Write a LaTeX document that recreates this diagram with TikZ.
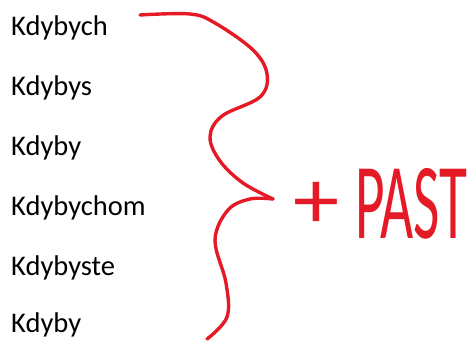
\documentclass[tikz,border=0pt]{standalone}
\usepackage{fontspec}
\setmainfont{Carlito}
\usepackage{tikz}
\usetikzlibrary{positioning}
\usepackage{xcolor}
\definecolor{penred}{RGB}{228,27,38}
\tikzset{%
	every word/.style={
		anchor=base west,
		inner sep=0pt,
		font=\fontsize{28.5bp}{34bp}\selectfont
	},
	pen stroke/.style={
		draw=penred,
		line width=3.4bp,
		line cap=round,
		line join=round
	},
	pen text/.style={
		anchor=base west,
		inner sep=0pt,
		text=penred
	},
}
\begin{document}
\begin{tikzpicture}[x=1bp, y=-1bp]
			\useasboundingbox (0,0) rectangle (472,340);
			
			\node[every word] (w1) at (11,35) {Kdybych};
			\node[every word] (w2) at (11,95) {Kdybys};
			\node[every word] (w3) at (11,155) {Kdyby};
			\node[every word] (w4) at (11,215) {Kdybychom};
			\node[every word] (w5) at (11,275) {Kdybyste};
			\node[every word] (w6) at (11,332) {Kdyby};
			
			% the brace
			\draw[pen stroke] plot[smooth, tension=0.6] coordinates {(140,15) (190,14) (215,23) (253,50) (267,74) (260,97) (222,116) (210,137) (220,161) (243,183) (273,199)};
			\draw[pen stroke] plot[smooth, tension=0.6] coordinates {(273,199) (250,199) (228,210) (215,240) (226,283) (227,317) (207,339)};
			
			\node[pen text, xscale=1.1, font=\fontsize{84bp}{84bp}\selectfont] (plus) at (293,228) {+};
			\node[pen text, xscale=0.53, font=\fontsize{108bp}{108bp}\selectfont] (past) at (355,238) {PAST};
			
		\end{tikzpicture}
\end{document}
